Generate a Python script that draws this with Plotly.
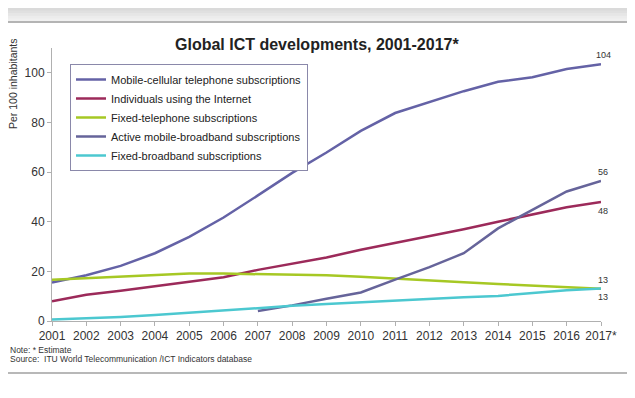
import plotly.graph_objects as go

years = list(range(2001, 2018))
year_labels = [str(y) for y in range(2001, 2017)] + ["2017*"]

mobile_cellular = [15.5, 18.4, 22.2, 27.3, 33.9, 41.7, 50.6, 59.7, 67.9, 76.6, 83.8, 88.1, 92.6, 96.4, 98.2, 101.5, 103.5]
internet_users = [8.0, 10.6, 12.2, 14.0, 15.8, 17.6, 20.6, 23.1, 25.6, 28.7, 31.4, 34.4, 37.0, 40.0, 42.9, 45.8, 48.0]
fixed_telephone = [16.6, 17.2, 17.8, 18.6, 19.1, 19.1, 18.9, 18.6, 18.4, 17.8, 17.0, 16.5, 15.6, 14.9, 14.3, 13.6, 13.0]
mb_years = list(range(2007, 2018))
mobile_broadband = [4.0, 6.3, 9.0, 11.5, 16.7, 21.7, 27.3, 37.3, 44.8, 52.2, 56.4]
fixed_broadband = [0.6, 1.0, 1.6, 2.4, 3.4, 4.3, 5.2, 6.1, 6.9, 7.6, 8.5, 9.1, 9.6, 10.1, 11.4, 12.4, 13.1]

end_labels = ["104", "56", "48", "13", "13"]
end_values = [mobile_cellular[-1], mobile_broadband[-1], internet_users[-1], fixed_telephone[-1], fixed_broadband[-1]]
end_shifts = [9, 9, -9, 9, -9]

names = [
    "Mobile-cellular telephone subscriptions",
    "Individuals using the Internet",
    "Fixed-telephone subscriptions",
    "Active mobile-broadband subscriptions",
    "Fixed-broadband subscriptions",
]
colors = ["#6462a6", "#9c2a5a", "#a6c824", "#66649a", "#4cc8d0"]

# page has an 8px body margin; the figure is sized so the plot lands where the reference has it
OFF = 8
W, H = 635 - OFF, 398 - OFF
L, R, T, B = 52, 601, 48, 321  # plot area in page pixels


def px(x):
    return (x - L) / (R - L)


def py(y):
    return (B - y) / (B - T)


FONT = "Liberation Sans, Arial, sans-serif"

fig = go.Figure()
fig.add_trace(go.Scatter(x=years, y=mobile_cellular, name=names[0], mode="lines", line=dict(color=colors[0], width=2.5)))
fig.add_trace(go.Scatter(x=years, y=internet_users, name=names[1], mode="lines", line=dict(color=colors[1], width=2.5)))
fig.add_trace(go.Scatter(x=years, y=fixed_telephone, name=names[2], mode="lines", line=dict(color=colors[2], width=2.5)))
fig.add_trace(go.Scatter(x=mb_years, y=mobile_broadband, name=names[3], mode="lines", line=dict(color=colors[3], width=2.5)))
fig.add_trace(go.Scatter(x=years, y=fixed_broadband, name=names[4], mode="lines", line=dict(color=colors[4], width=2.5)))

annotations = []
for lab, val, sh in zip(end_labels, end_values, end_shifts):
    annotations.append(dict(x=2017, y=val, text=lab, showarrow=False, yshift=sh, xshift=2,
                            font=dict(size=9, color="#333333", family=FONT)))

annotations.append(dict(xref="paper", yref="paper", x=px(317), y=py(44), text="<b>Global ICT developments, 2001-2017*</b>",
                        showarrow=False, xanchor="center", yanchor="middle", font=dict(size=16, color="#222222", family=FONT)))
annotations.append(dict(xref="paper", yref="paper", x=px(13), y=py(84), text="Per 100 inhabitants", textangle=-90,
                        showarrow=False, xanchor="center", yanchor="middle", font=dict(size=10.5, color="#333333", family=FONT)))
annotations.append(dict(xref="paper", yref="paper", x=px(OFF), y=py(350), text="Note: * Estimate",
                        showarrow=False, xanchor="left", yanchor="middle", font=dict(size=8.5, color="#333333", family=FONT)))
annotations.append(dict(xref="paper", yref="paper", x=px(OFF), y=py(359), text="Source:&nbsp;&nbsp;ITU World Telecommunication /ICT Indicators database",
                        showarrow=False, xanchor="left", yanchor="middle", font=dict(size=8.5, color="#333333", family=FONT)))

shapes = []
grays = ["#dadada", "#e0e0e0", "#e6e6e6", "#ececec", "#f0f0f0"]
band_top, band_bot = OFF, 21
band_h = (band_bot - band_top) / len(grays)
for i, g in enumerate(grays):
    shapes.append(dict(type="rect", xref="paper", yref="paper", x0=px(OFF), x1=px(635), y0=py(band_top + (i + 1) * band_h + 0.5),
                       y1=py(band_top + i * band_h), line=dict(width=0), fillcolor=g, layer="below"))
shapes.append(dict(type="line", xref="paper", yref="paper", x0=px(OFF), x1=px(635), y0=py(22), y1=py(22), line=dict(color="#b4b4b4", width=2)))
shapes.append(dict(type="line", xref="paper", yref="paper", x0=px(OFF), x1=px(635), y0=py(373), y1=py(373), line=dict(color="#b8b8b8", width=2)))
shapes.append(dict(type="line", xref="paper", yref="paper", x0=px(633), x1=px(633), y0=py(23), y1=py(373), line=dict(color="#e4e4e4", width=1)))

fig.update_layout(
    width=W, height=H,
    margin=dict(l=L - OFF, r=(W + OFF) - R, t=T - OFF, b=(H + OFF) - B, pad=0),
    paper_bgcolor="white", plot_bgcolor="white",
    font=dict(family=FONT, color="#333333"),
    showlegend=True,
    legend=dict(x=px(70), y=py(64), xanchor="left", yanchor="top", bordercolor="#8a88aa", borderwidth=1,
                bgcolor="white", font=dict(size=11, color="#222222", family=FONT), tracegroupgap=0),
    annotations=annotations,
    shapes=shapes,
)
fig.update_xaxes(range=[2001, 2017], tickmode="array", tickvals=years, ticktext=year_labels, showgrid=False, zeroline=False,
                 showline=True, linecolor="#b0b0b0", linewidth=1, ticks="outside", ticklen=4, tickcolor="#b0b0b0",
                 tickfont=dict(size=12, color="#333333", family=FONT))
fig.update_yaxes(range=[0, 110], tickmode="array", tickvals=[0, 20, 40, 60, 80, 100], showgrid=False, zeroline=False,
                 showline=True, linecolor="#b0b0b0", linewidth=1, ticks="outside", ticklen=4, tickcolor="#b0b0b0",
                 tickfont=dict(size=12, color="#333333", family=FONT))

fig.write_html("out.html", config={"displayModeBar": False})
